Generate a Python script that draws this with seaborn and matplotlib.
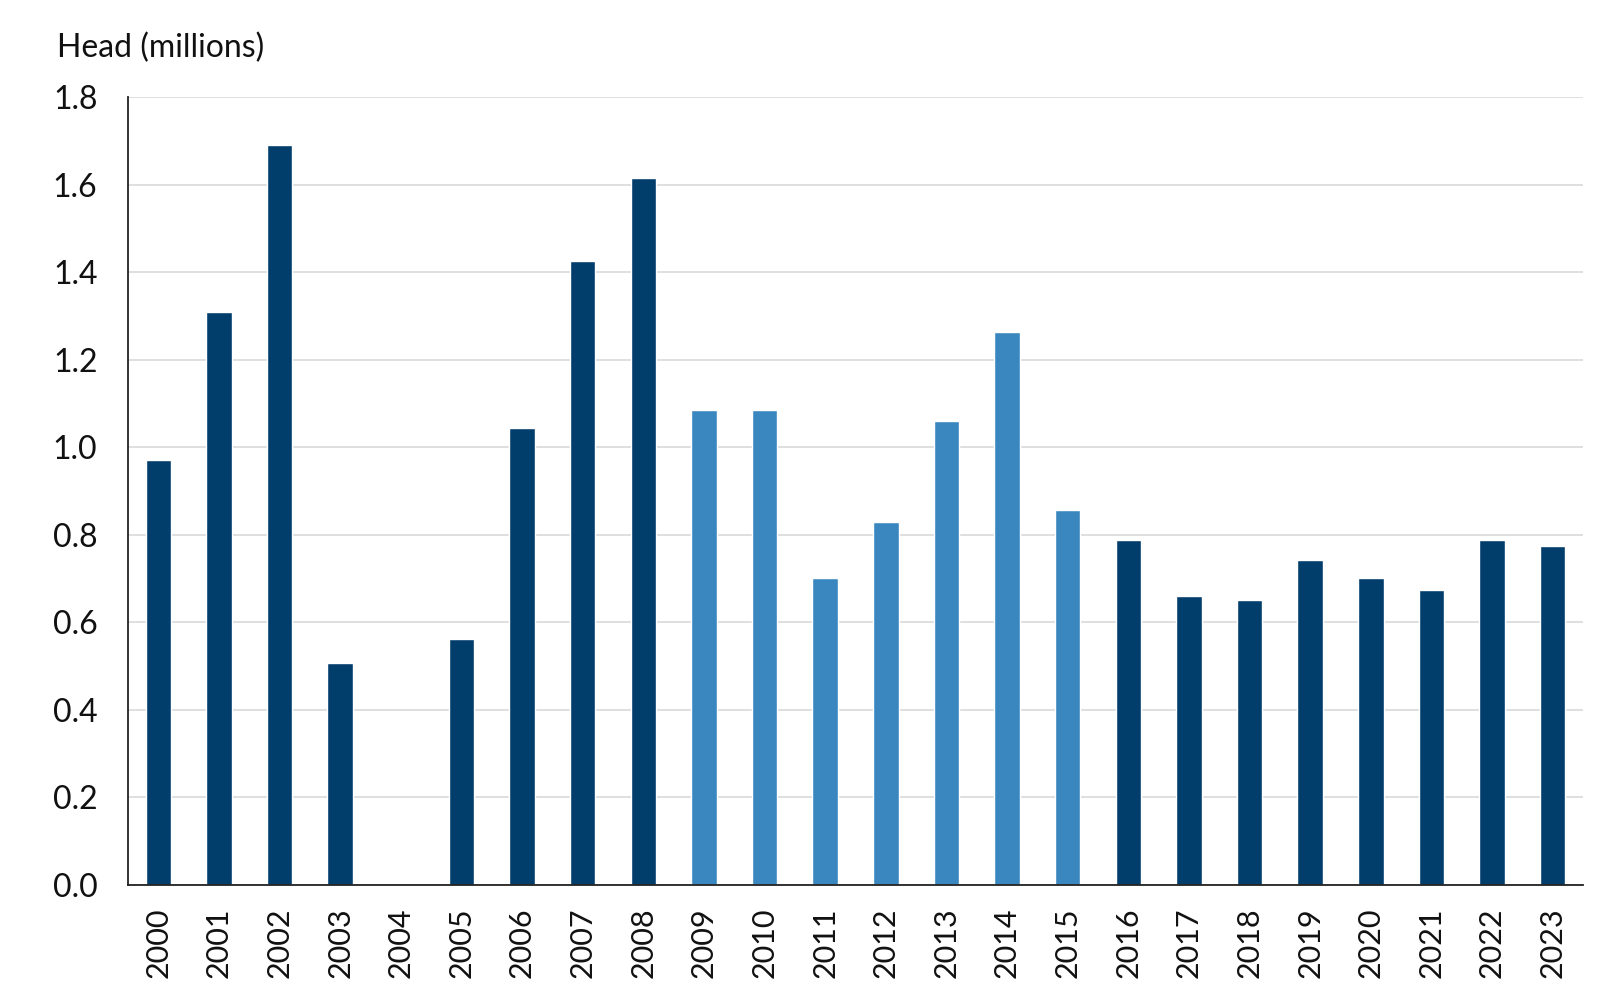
import matplotlib
matplotlib.use('Agg')
import matplotlib.pyplot as plt
import seaborn as sns
import pandas as pd

# Data
years = [str(y) for y in range(2000, 2024)]
head_millions = [0.970, 1.309, 1.691, 0.507, 0.0, 0.561, 1.045, 1.425, 1.614,
                 1.085, 1.085, 0.701, 0.830, 1.059, 1.264, 0.856,
                 0.788, 0.661, 0.651, 0.743, 0.701, 0.675, 0.788, 0.774]
period = ['dark'] * 9 + ['light'] * 7 + ['dark'] * 8
palette = {'dark': '#023e6c', 'light': '#3a87c0'}

df = pd.DataFrame({'year': years, 'head': head_millions, 'period': period})

sns.set_theme(style='white')
plt.rcParams['font.family'] = ['Lato', 'DejaVu Sans']

fig = plt.figure(figsize=(16.19, 10.01), dpi=100)
ax = fig.add_axes([128 / 1619, 1 - 885 / 1001, (1583 - 128) / 1619, (885 - 97) / 1001])

sns.barplot(data=df, x='year', y='head', hue='period', palette=palette,
            dodge=False, width=0.42, legend=False, saturation=1, ax=ax)

ax.set_ylim(0, 1.8)
ax.set_yticks([i * 0.2 for i in range(10)])
ax.set_yticklabels([f'{i * 0.2:.1f}' for i in range(10)])
ax.yaxis.grid(True, color='#d9d9d9', linewidth=1.2)
ax.set_axisbelow(True)

for side in ['top', 'right']:
    ax.spines[side].set_visible(False)
for side in ['left', 'bottom']:
    ax.spines[side].set_color('#222222')
    ax.spines[side].set_linewidth(1.3)

ax.tick_params(axis='y', length=0, pad=22, labelsize=23, labelcolor='#111111')
ax.tick_params(axis='x', length=0, pad=16, labelsize=22, labelcolor='#111111',
               labelrotation=90)
ax.set_xlabel('')
ax.set_ylabel('')

fig.text(57 / 1619, 1 - 48 / 1001, 'Head (millions)', fontsize=23,
         color='#111111', ha='left', va='center')

fig.savefig('out.png', dpi=100, facecolor='white')
